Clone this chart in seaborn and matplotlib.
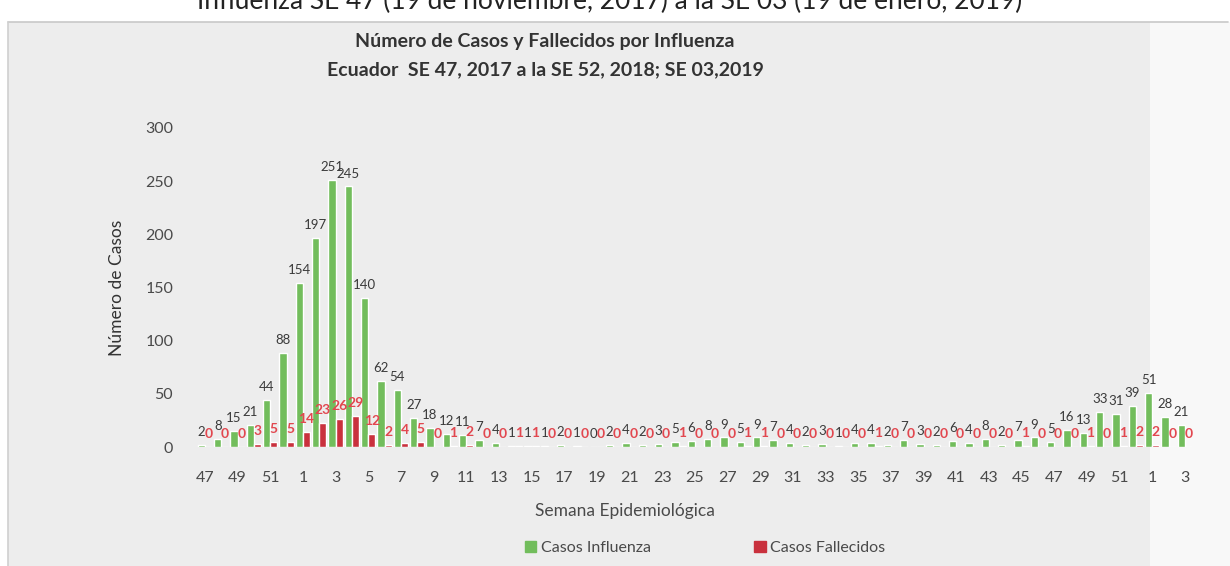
import pandas as pd
import matplotlib.pyplot as plt
import matplotlib.patches as mpatches
from matplotlib.lines import Line2D
import seaborn as sns

# -----------------------------
# Data
# -----------------------------
semanas = [47, 48, 49, 50, 51, 52] + list(range(1, 53)) + [1, 2, 3]

casos_influenza = [2, 8, 15, 21, 44, 88,
                   154, 197, 251, 245, 140, 62, 54, 27, 18, 12, 11, 7, 4, 1, 1, 1, 2, 1, 0, 2,
                   4, 2, 3, 5, 6, 8, 9, 5, 9, 7, 4, 2, 3, 1, 4, 4, 2, 7, 3, 2, 6, 4, 8, 2,
                   7, 9, 5, 16, 13, 33, 31, 39,
                   51, 28, 21]

casos_fallecidos = [0, 0, 0, 3, 5, 5,
                    14, 23, 26, 29, 12, 2, 4, 5, 0, 1, 2, 0, 0, 1, 1, 0, 0, 0, 0, 0,
                    0, 0, 0, 1, 0, 0, 0, 1, 1, 0, 0, 0, 0, 0, 0, 1, 0, 0, 0, 0, 0, 0, 0, 0,
                    1, 0, 0, 0, 1, 0, 1, 2,
                    2, 0, 0]

series = ["Casos Influenza", "Casos Fallecidos"]
colores = ["#72bd5c", "#c9313d"]

df = pd.DataFrame({
    "pos": list(range(len(semanas))) * 2,
    "serie": [series[0]] * len(semanas) + [series[1]] * len(semanas),
    "valor": casos_influenza + casos_fallecidos,
})

# -----------------------------
# Plot
# -----------------------------
sns.set_style("white")
plt.rcParams["font.family"] = ["Lato", "DejaVu Sans"]

fig = plt.figure(figsize=(12.3, 5.66), dpi=100, facecolor="#ededed")

# scanned page look: white strip on top, lighter right side (kept behind the axes)
for rect in [((0, 1 - 22 / 566), 1, 22 / 566, "white"),
             ((1150 / 1230, 0), 80 / 1230, 1 - 22 / 566, "#f8f8f8"),
             ((0, 0), 8 / 1230, 1, "white")]:
    fig.patches.append(mpatches.Rectangle(rect[0], rect[1], rect[2], transform=fig.transFigure,
                                          facecolor=rect[3], edgecolor="none", zorder=-10))
fig.lines.append(Line2D([8 / 1230, 1228 / 1230], [1 - 22 / 566] * 2, transform=fig.transFigure,
                        color="#c8c8c8", lw=1.2, zorder=-5))
fig.lines.append(Line2D([8 / 1230] * 2, [0, 1 - 22 / 566], transform=fig.transFigure,
                        color="#d0d0d0", lw=1.2, zorder=-5))

ax = fig.add_axes([0.160, 0.2102, 0.810, 0.5637])
ax.set_facecolor("none")

sns.barplot(data=df, x="pos", y="valor", hue="serie", palette=colores,
            width=0.88, dodge=True, legend=False, ax=ax, saturation=1)

ax.set_ylim(0, 300)
ax.set_xlim(-0.5, len(semanas) - 0.5)
ax.set_yticks(range(0, 301, 50))
ax.set_xticks(range(0, len(semanas), 2))
ax.set_xticklabels([str(s) for s in semanas[::2]])
ax.tick_params(axis="both", length=0, labelsize=11.5, labelcolor="#4a4a4a")
ax.tick_params(axis="x", pad=17)
ax.tick_params(axis="y", pad=17)
sns.despine(ax=ax, left=True, bottom=True)

# data labels
ax.bar_label(ax.containers[0], labels=[str(v) for v in casos_influenza],
             padding=5, fontsize=9.5, color="#3a3a3a")
ax.bar_label(ax.containers[1], labels=[str(v) for v in casos_fallecidos],
             padding=5, fontsize=10, color="#e2474f", fontweight="bold")

ax.set_ylabel("Número de Casos", fontsize=12.5, color="#333333")
ax.yaxis.set_label_coords(-0.072, 0.5)
ax.set_xlabel("Semana Epidemiológica", fontsize=12.5, color="#4a4a4a")
ax.xaxis.set_label_coords(0.43, -0.175)

# titles
fig.text(545 / 1230, 1 - 42 / 566, "Número de Casos y Fallecidos por Influenza",
         ha="center", va="center", fontsize=14, fontweight="bold", color="#333333")
fig.text(545 / 1230, 1 - 70 / 566, "Ecuador  SE 47, 2017 a la SE 52, 2018; SE 03,2019",
         ha="center", va="center", fontsize=14, fontweight="bold", color="#333333")

# clipped line of page text at the very top
fig.text(610 / 1230, 1 - 9 / 566, "Influenza SE 47 (19 de noviembre, 2017) a la SE 03 (19 de enero, 2019)",
         ha="center", va="baseline", fontsize=19, color="#222222")

# legend
handles = [mpatches.Patch(color=c, label=s) for c, s in zip(colores, series)]
fig.legend(handles=handles, loc="center", bbox_to_anchor=(705 / 1230, 1 - 548 / 566), ncol=2,
           frameon=False, fontsize=11.5, labelcolor="#4a4a4a", handlelength=0.7, handleheight=0.7,
           handletextpad=0.3, columnspacing=6.5)

plt.savefig("out.png", dpi=100, facecolor=fig.get_facecolor())
